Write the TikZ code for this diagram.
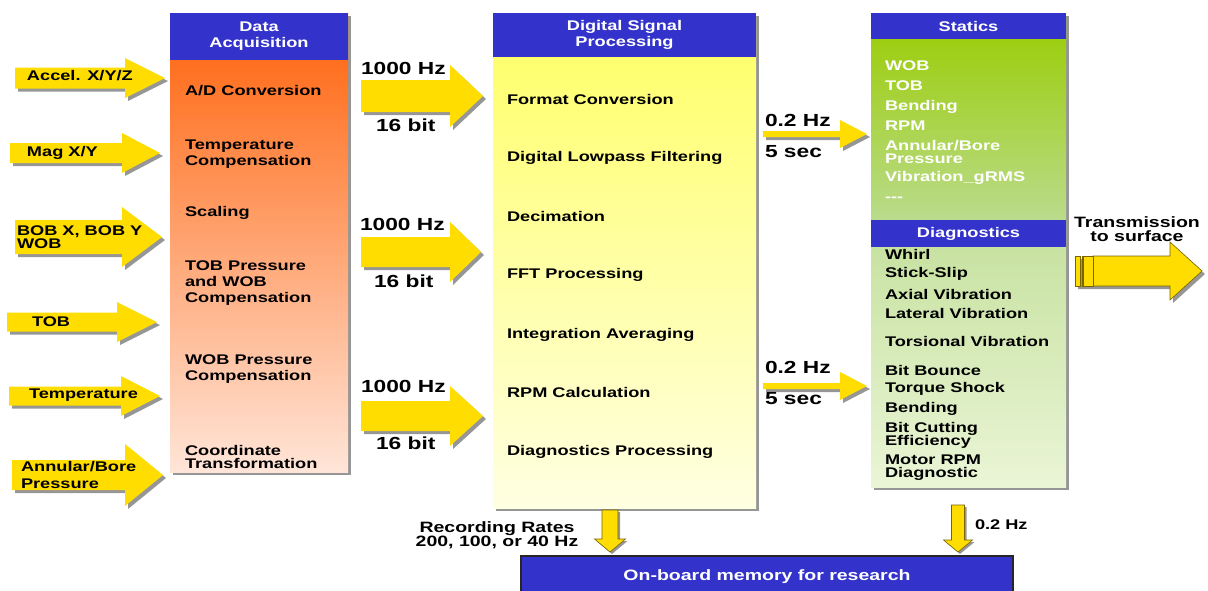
\documentclass[tikz,border=0pt]{standalone}
\usepackage{fontspec}
\setmainfont{Liberation Sans}[FakeStretch=1.3]
\usetikzlibrary{shadows}

\definecolor{hdrblue}{RGB}{51,51,204}
\definecolor{daTop}{RGB}{255,98,10}
\definecolor{daBot}{RGB}{255,229,216}
\definecolor{dspTop}{RGB}{255,255,100}
\definecolor{dspBot}{RGB}{255,255,226}
\definecolor{stTop}{RGB}{153,204,0}
\definecolor{stBot}{RGB}{186,219,140}
\definecolor{dgTop}{RGB}{196,224,156}
\definecolor{dgBot}{RGB}{234,245,214}
\definecolor{arrYellow}{RGB}{255,221,0}
\definecolor{arrEdge}{RGB}{120,100,0}
\definecolor{shadowGray}{RGB}{150,150,150}

% outline of a right-pointing block arrow:
% left x, head base x, tip x, centre y, shaft half height, head half height
\newcommand\rarrowpath[6]{(#1,#4-#5) -- (#2,#4-#5) -- (#2,#4-#6) -- (#3,#4) -- (#2,#4+#6) -- (#2,#4+#5) -- (#1,#4+#5) -- cycle}
% outline of a down-pointing block arrow:
% centre x, shaft half width, head half width, top y, head base y, tip y
\newcommand\darrowpath[6]{(#1-#2,#4) -- (#1+#2,#4) -- (#1+#2,#5) -- (#1+#3,#5) -- (#1,#6) -- (#1-#3,#5) -- (#1-#2,#5) -- cycle}
\newcommand\blockarrow[6]{%
  \fill[shadowGray,shift={(3,3)}] \rarrowpath{#1}{#2}{#3}{#4}{#5}{#6};
  \fill[arrYellow] \rarrowpath{#1}{#2}{#3}{#4}{#5}{#6};}

\begin{document}
\begin{tikzpicture}[x=1pt,y=-1pt,
  every node/.style={inner sep=0pt, outer sep=0pt,
    font=\bfseries\fontsize{14}{16}\selectfont},
  panel/.style={anchor=north west,
    drop shadow={shadow xshift=3pt, shadow yshift=-3pt, fill=shadowGray, opacity=1}},
  header/.style={anchor=north west, fill=hdrblue, text=white, align=center},
  item/.style={anchor=west, align=left},
  initem/.style={anchor=west, align=left},
  rate/.style={anchor=west, font=\bfseries\fontsize{17.5}{18}\selectfont},
  note/.style={align=center, font=\bfseries\fontsize{15}{15}\selectfont},
]
\useasboundingbox (0,0) rectangle (1208,590);

% ---------- panels ----------
\node[panel, top color=daTop, bottom color=daBot,
  minimum width=178pt, minimum height=459pt] (da) at (170,13) {};
\node[header, minimum width=178pt, minimum height=47pt] (dah) at (170,13)
  {Data\\Acquisition};

\node[panel, top color=dspTop, bottom color=dspBot,
  minimum width=263pt, minimum height=495pt] (dsp) at (493,13) {};
\node[header, minimum width=263pt, minimum height=44pt] (dsph) at (493,13)
  {Digital Signal\\Processing};

\node[panel, top color=stTop, bottom color=stBot,
  minimum width=195pt, minimum height=207pt] (st) at (871,13) {};
\node[panel, top color=dgTop, bottom color=dgBot,
  minimum width=195pt, minimum height=267pt] (dg) at (871,220) {};
\node[header, minimum width=195pt, minimum height=26pt] (sth) at (871,13) {Statics};
\node[header, minimum width=195pt, minimum height=27pt] (dgh) at (871,220) {Diagnostics};

% on-board memory (runs past the lower edge)
\begin{scope}
\clip (0,0) rectangle (1208,590);
\node[anchor=north west, fill=hdrblue, draw=black!85, line width=1.5pt,
  minimum width=492pt, minimum height=60pt] (mem) at (521,556) {};
\end{scope}
\node[text=white, font=\bfseries\fontsize{15}{15}\selectfont] (memt) at (767,577)
  {On-board memory for research};

% ---------- panel contents ----------
\node[item] (a1) at (185,91) {A/D Conversion};
\node[item] (a2) at (185,154) {Temperature\\Compensation};
\node[item] (a3) at (185,213) {Scaling};
\node[item] (a4) at (185,283) {TOB Pressure\\and WOB\\Compensation};
\node[item] (a5) at (185,369) {WOB Pressure\\Compensation};
\node[item] (a6) at (185,457) {Coordinate\\[-3pt]Transformation};

\node[item] (d1) at (507,99) {Format Conversion};
\node[item] (d2) at (507,158) {Digital Lowpass Filtering};
\node[item] (d3) at (507,216) {Decimation};
\node[item] (d4) at (507,275) {FFT Processing};
\node[item] (d5) at (507,335) {Integration Averaging};
\node[item] (d6) at (507,392) {RPM Calculation};
\node[item] (d7) at (507,452) {Diagnostics Processing};

\begin{scope}[every node/.append style={text=white}]
\node[item] (s1) at (885,66) {WOB};
\node[item] (s2) at (885,86) {TOB};
\node[item] (s3) at (885,107) {Bending};
\node[item] (s4) at (885,126) {RPM};
\node[item] (s5) at (885,152) {Annular/Bore\\[-3pt]Pressure};
\node[item] (s6) at (885,178) {Vibration\_gRMS};
\node[item] (s7) at (885,199) {-{}-{}-};
\end{scope}

\node[item] (g1) at (885,254) {Whirl};
\node[item] (g2) at (885,274) {Stick-Slip};
\node[item] (g3) at (885,294) {Axial Vibration};
\node[item] (g4) at (885,313) {Lateral Vibration};
\node[item] (g5) at (885,341) {Torsional Vibration};
\node[item] (g6) at (885,370) {Bit Bounce};
\node[item] (g7) at (885,389) {Torque Shock};
\node[item] (g8) at (885,409) {Bending};
\node[item] (g9) at (885,435) {Bit Cutting\\[-3pt]Efficiency};
\node[item] (g10) at (885,468) {Motor RPM\\[-3pt]Diagnostic};

% ---------- sensor inputs ----------
\blockarrow{15}{125}{165}{78}{10.5}{20}
\blockarrow{10}{122}{160}{153}{10}{20}
\blockarrow{15}{122}{162}{237}{17}{30}
\blockarrow{7}{117}{157}{322}{9.5}{20}
\blockarrow{9}{121}{160}{396}{9.5}{20}
\blockarrow{12}{125}{163}{475}{15}{31}

\node[initem] (i1) at (27,76) {Accel. X/Y/Z};
\node[initem] (i2) at (27,153) {Mag X/Y};
\node[initem] (i3) at (17,237) {BOB X, BOB Y\\[-3pt]WOB};
\node[initem] (i4) at (32,322) {TOB};
\node[initem] (i5) at (29,395) {Temperature};
\node[initem] (i6) at (21,475) {Annular/Bore\\[1pt]Pressure};

% ---------- acquisition to processing ----------
\blockarrow{361}{450}{483}{96}{16}{31}
\blockarrow{361}{450}{481}{252}{15}{30}
\blockarrow{361}{450}{483}{416}{15}{30}

\node[rate] (r1a) at (361,68) {1000 Hz};
\node[rate] (r1b) at (376,125) {16 bit};
\node[rate] (r2a) at (360,224) {1000 Hz};
\node[rate] (r2b) at (374,281) {16 bit};
\node[rate] (r3a) at (361,386) {1000 Hz};
\node[rate] (r3b) at (376,443) {16 bit};

% ---------- processing to statics / diagnostics ----------
\blockarrow{763}{840}{867}{134}{3}{14}
\blockarrow{763}{840}{867}{386}{3}{14}

\node[rate] (q1a) at (765,120) {0.2 Hz};
\node[rate] (q1b) at (765,152) {5 sec};
\node[rate] (q2a) at (765,367) {0.2 Hz};
\node[rate] (q2b) at (765,399) {5 sec};

% ---------- transmission to surface ----------
\fill[shadowGray,shift={(3,3)}] \rarrowpath{1075}{1170}{1202}{271}{15}{29};
\filldraw[arrYellow,draw=arrEdge,line width=0.6pt] \rarrowpath{1093}{1170}{1202}{271}{15}{29};
\filldraw[arrYellow,draw=arrEdge,line width=0.6pt] (1075,256) rectangle (1080,286);
\filldraw[arrYellow,draw=arrEdge,line width=0.6pt] (1082,256) rectangle (1093,286);
\draw[arrEdge,line width=1.2pt] (1083.5,256) -- (1083.5,286);
\node[note] (tx) at (1137,229) {Transmission\\[-1pt]to surface};

% ---------- to on-board memory ----------
\fill[shadowGray,shift={(2,2)}] \darrowpath{610}{8}{15.5}{510}{539}{552};
\filldraw[arrYellow,draw=arrEdge,line width=0.6pt] \darrowpath{610}{8}{15.5}{510}{539}{552};
\fill[shadowGray,shift={(2,2)}] \darrowpath{958}{6.5}{14.5}{505}{540}{552};
\filldraw[arrYellow,draw=arrEdge,line width=0.6pt] \darrowpath{958}{6.5}{14.5}{505}{540}{552};

\node[note] (rec) at (497,535) {Recording Rates\\[-1pt]200, 100, or 40 Hz};
\node[anchor=west] (lowrate) at (975,525) {0.2 Hz};
\end{tikzpicture}
\end{document}
